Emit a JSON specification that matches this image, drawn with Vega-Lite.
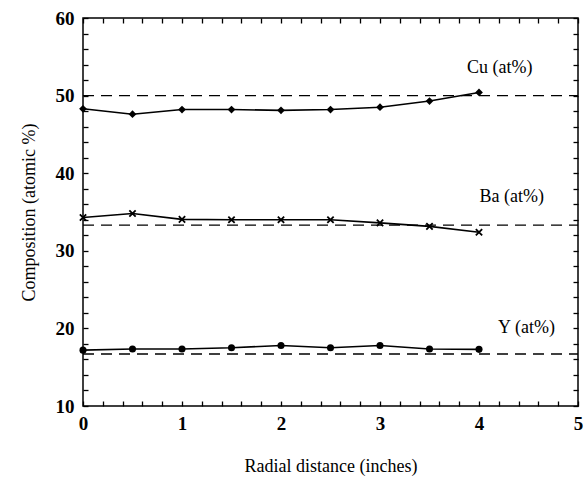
{
  "$schema": "https://vega.github.io/schema/vega-lite/v6.json",
  "autosize": "none",
  "width": 495,
  "height": 388,
  "padding": {"left": 83, "top": 18, "right": 8, "bottom": 79},
  "background": "white",
  "config": {
    "view": {"stroke": "black", "strokeWidth": 1.5},
    "font": "Liberation Serif"
  },
  "datasets": {
    "pts": [
      {"series": "Cu", "x": 0, "y": 48.3}, {"series": "Cu", "x": 0.5, "y": 47.6}, {"series": "Cu", "x": 1, "y": 48.2},
      {"series": "Cu", "x": 1.5, "y": 48.2}, {"series": "Cu", "x": 2, "y": 48.1}, {"series": "Cu", "x": 2.5, "y": 48.2},
      {"series": "Cu", "x": 3, "y": 48.5}, {"series": "Cu", "x": 3.5, "y": 49.3}, {"series": "Cu", "x": 4, "y": 50.4},
      {"series": "Ba", "x": 0, "y": 34.3}, {"series": "Ba", "x": 0.5, "y": 34.8}, {"series": "Ba", "x": 1, "y": 34.05},
      {"series": "Ba", "x": 1.5, "y": 34.0}, {"series": "Ba", "x": 2, "y": 34.0}, {"series": "Ba", "x": 2.5, "y": 34.0},
      {"series": "Ba", "x": 3, "y": 33.6}, {"series": "Ba", "x": 3.5, "y": 33.15}, {"series": "Ba", "x": 4, "y": 32.4},
      {"series": "Y", "x": 0, "y": 17.2}, {"series": "Y", "x": 0.5, "y": 17.35}, {"series": "Y", "x": 1, "y": 17.35},
      {"series": "Y", "x": 1.5, "y": 17.5}, {"series": "Y", "x": 2, "y": 17.8}, {"series": "Y", "x": 2.5, "y": 17.5},
      {"series": "Y", "x": 3, "y": 17.8}, {"series": "Y", "x": 3.5, "y": 17.35}, {"series": "Y", "x": 4, "y": 17.3}
    ],
    "refs": [
      {"series": "Cu", "x": 0, "y": 50.0}, {"series": "Cu", "x": 5, "y": 50.0},
      {"series": "Ba", "x": 0, "y": 33.3}, {"series": "Ba", "x": 5, "y": 33.3},
      {"series": "Y", "x": 0, "y": 16.7}, {"series": "Y", "x": 5, "y": 16.7}
    ],
    "labels": [
      {"label": "Cu (at%)", "x": 4.21, "y": 53.6},
      {"label": "Ba (at%)", "x": 4.33, "y": 36.9},
      {"label": "Y (at%)", "x": 4.48, "y": 20.05}
    ]
  },
  "resolve": {"axis": {"x": "independent", "y": "independent"}},
  "layer": [
    {
      "layer": [
        {
          "data": {"name": "refs"},
          "mark": {"type": "line", "color": "black", "strokeWidth": 1.3, "strokeDash": [11, 7]},
          "encoding": {
            "x": {"field": "x", "type": "quantitative"},
            "y": {"field": "y", "type": "quantitative"},
            "detail": {"field": "series"}
          }
        },
        {
          "data": {"name": "pts"},
          "mark": {"type": "line", "color": "black", "strokeWidth": 1.6},
          "encoding": {
            "x": {"field": "x", "type": "quantitative"},
            "y": {"field": "y", "type": "quantitative"},
            "detail": {"field": "series"}
          }
        },
        {
          "data": {"name": "pts"},
          "transform": [{"filter": "datum.series === 'Cu'"}],
          "mark": {"type": "point", "shape": "diamond", "filled": true, "color": "black", "size": 60, "opacity": 1},
          "encoding": {
            "x": {"field": "x", "type": "quantitative"},
            "y": {"field": "y", "type": "quantitative"}
          }
        },
        {
          "data": {"name": "pts"},
          "transform": [{"filter": "datum.series === 'Ba'"}],
          "mark": {"type": "point", "shape": "M-1,-1L1,1M1,-1L-1,1", "filled": false, "color": "black", "strokeWidth": 1.8, "size": 40, "opacity": 1},
          "encoding": {
            "x": {"field": "x", "type": "quantitative"},
            "y": {"field": "y", "type": "quantitative"}
          }
        },
        {
          "data": {"name": "pts"},
          "transform": [{"filter": "datum.series === 'Y'"}],
          "mark": {"type": "point", "shape": "circle", "filled": true, "color": "black", "size": 50, "opacity": 1},
          "encoding": {
            "x": {"field": "x", "type": "quantitative"},
            "y": {"field": "y", "type": "quantitative"}
          }
        }
      ],
      "encoding": {
        "x": {
          "field": "x", "type": "quantitative",
          "scale": {"domain": [0, 5], "nice": false, "zero": false},
          "axis": {
            "orient": "bottom", "title": "Radial distance (inches)",
            "values": [0, 0.2, 0.4, 0.6, 0.8, 1, 1.2, 1.4, 1.6, 1.8, 2, 2.2, 2.4, 2.6, 2.8, 3, 3.2, 3.4, 3.6, 3.8, 4, 4.2, 4.4, 4.6, 4.8, 5],
            "labelExpr": "datum.value % 1 === 0 ? datum.value : ''",
            "grid": false, "domain": false, "tickSize": -5, "tickColor": "black", "tickWidth": 1.3,
            "labelFont": "Liberation Serif", "labelFontSize": 19, "labelFontWeight": "bold", "labelColor": "black",
            "labelPadding": 13, "labelFlush": false,
            "titleFont": "Liberation Serif", "titleFontSize": 18, "titleFontWeight": "normal", "titleColor": "black",
            "titlePadding": 24
          }
        },
        "y": {
          "field": "y", "type": "quantitative",
          "scale": {"domain": [10, 60], "nice": false, "zero": false},
          "axis": {
            "orient": "left", "title": "Composition (atomic %)",
            "values": [10, 12, 14, 16, 18, 20, 22, 24, 26, 28, 30, 32, 34, 36, 38, 40, 42, 44, 46, 48, 50, 52, 54, 56, 58, 60],
            "labelExpr": "datum.value % 10 === 0 ? datum.value : ''",
            "grid": false, "domain": false, "tickSize": -5, "tickColor": "black", "tickWidth": 1.3,
            "labelFont": "Liberation Serif", "labelFontSize": 19, "labelFontWeight": "bold", "labelColor": "black",
            "labelPadding": 14, "labelFlush": false,
            "titleFont": "Liberation Serif", "titleFontSize": 18, "titleFontWeight": "normal", "titleColor": "black",
            "titlePadding": 17
          }
        }
      }
    },
    {
      "data": {"name": "labels"},
      "mark": {"type": "text", "color": "black", "font": "Liberation Serif", "fontSize": 18, "align": "center", "baseline": "middle"},
      "encoding": {
        "x": {
          "field": "x", "type": "quantitative",
          "axis": {
            "orient": "top", "title": null, "labels": false,
            "values": [0, 0.2, 0.4, 0.6, 0.8, 1, 1.2, 1.4, 1.6, 1.8, 2, 2.2, 2.4, 2.6, 2.8, 3, 3.2, 3.4, 3.6, 3.8, 4, 4.2, 4.4, 4.6, 4.8, 5],
            "grid": false, "domain": false, "tickSize": -5, "tickColor": "black", "tickWidth": 1.3
          }
        },
        "y": {
          "field": "y", "type": "quantitative",
          "axis": {
            "orient": "right", "title": null, "labels": false,
            "values": [10, 12, 14, 16, 18, 20, 22, 24, 26, 28, 30, 32, 34, 36, 38, 40, 42, 44, 46, 48, 50, 52, 54, 56, 58, 60],
            "grid": false, "domain": false, "tickSize": -5, "tickColor": "black", "tickWidth": 1.3
          }
        },
        "text": {"field": "label"}
      }
    }
  ]
}
